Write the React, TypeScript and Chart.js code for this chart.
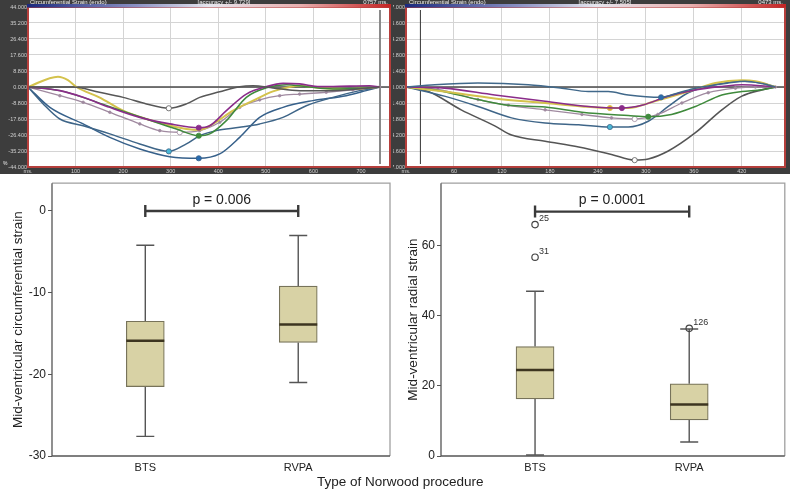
import React, { useEffect, useRef } from 'react';
import { Chart, registerables } from 'chart.js';

Chart.register(...registerables);

const FONT = '"Liberation Sans", Arial, Helvetica, sans-serif';

// ---------------- Top-left panel: circumferential strain curves (ms, %) ----------------
const leftTitle = 'Circumferential Strain (endo)';
const leftAccuracy = '[accuracy +/- 9.729]';
const leftDuration = '0757 ms.';
const leftXTicks = [0, 100, 200, 300, 400, 500, 600, 700];
const leftYTicks = [44, 35.2, 26.4, 17.6, 8.8, 0, -8.8, -17.6, -26.4, -35.2, -44];
const leftXMax = 761;
const leftCursorMs = 740;

const leftYellowMs = [0, 63, 84, 102, 150, 200, 249, 300, 333, 361, 389, 431, 473, 515, 550, 571, 613, 676, 739];
const leftYellowStrain = [0, 5.7, 3.8, 0, -5.7, -13, -17.6, -21.3, -23.1, -23.6, -20.3, -13, -7.5, -2.4, 0, 0.7, -0.5, -1.1, 0];
const leftGrayMs = [0, 95, 150, 200, 249, 296, 333, 361, 403, 445, 473, 515, 571, 641, 711, 739];
const leftGrayStrain = [0, 0, -2.9, -5.7, -9.3, -11.7, -9.3, -5.7, -2.6, 0.2, 0.7, -0.5, -2, -2, -0.7, 0];
const leftPurpleMs = [0, 67, 116, 172, 235, 298, 359, 382, 417, 459, 501, 536, 571, 613, 676, 718, 739];
const leftPurpleStrain = [0, -2, -5.7, -11.2, -16.7, -20.3, -22.4, -21.3, -13, -3.9, 0.2, 2, 1.7, 0.2, 0.5, 0.7, 0];
const leftGreenMs = [0, 67, 172, 249, 312, 359, 382, 417, 459, 501, 543, 585, 641, 711, 739];
const leftGreenStrain = [0, -2, -10.8, -17.6, -23.1, -26.8, -25.8, -18.5, -5.7, -0.5, 1.3, 0.2, -1.1, -0.5, 0];
const leftMauveMs = [0, 67, 116, 172, 235, 277, 319, 361, 403, 445, 487, 529, 571, 627, 683, 739];
const leftMauveStrain = [0, -4.8, -8.4, -13.9, -20.3, -24, -24.9, -24, -19.4, -11.2, -7.1, -4.8, -3.9, -2.9, -1.6, 0];
const leftBlueAMs = [0, 32, 67, 116, 172, 235, 296, 333, 361, 396, 445, 487, 536, 585, 641, 697, 739];
const leftBlueAStrain = [0, -9.3, -17.6, -21.3, -25.8, -31.3, -35.4, -31.3, -26.8, -24, -22.2, -20.3, -16.7, -10.3, -5.7, -2, 0];
const leftBlueBMs = [0, 46, 116, 172, 235, 298, 359, 403, 445, 487, 536, 599, 669, 711, 739];
const leftBlueBStrain = [0, -11.2, -20.3, -27.7, -34.1, -38.3, -39.2, -36.8, -27.7, -16.7, -11.2, -7.5, -4.8, -2, 0];

// ---------------- Top-right panel ----------------
const rightTitle = 'Circumferential Strain (endo)';
const rightAccuracy = '[accuracy +/- 7.505]';
const rightDuration = '0473 ms.';
const rightXTicks = [0, 60, 120, 180, 240, 300, 360, 420];
const rightYTicks = [7, 5.6, 4.2, 2.8, 1.4, 0, -1.4, -2.8, -4.2, -5.6, -7];
const rightXMax = 474;
const rightCursorMs = 18;

const rightTopBlueMs = [0, 36, 90, 153, 195, 228, 253, 278, 319, 341, 362, 403, 424, 445, 462];
const rightTopBlueStrain = [0, 0.2, 0.35, 0.2, -0.1, -0.4, -0.4, -0.7, -0.9, -0.5, -0.1, 0.35, 0.5, 0.3, 0];
const rightYellowMs = [0, 48, 111, 174, 220, 255, 278, 311, 353, 387, 420, 437, 462];
const rightYellowStrain = [0, -0.4, -1, -1.4, -1.7, -1.84, -1.84, -1.25, -0.4, 0.35, 0.58, 0.5, 0];
const rightPurpleMs = [0, 48, 111, 174, 228, 270, 295, 328, 362, 395, 420, 462];
const rightPurpleStrain = [0, -0.1, -0.7, -1.25, -1.7, -1.84, -1.6, -0.8, -0.25, 0.05, 0.2, 0];
const rightGreenMs = [0, 40, 90, 128, 174, 220, 278, 303, 332, 362, 395, 420, 445, 462];
const rightGreenStrain = [0, -0.3, -1.1, -1.6, -1.75, -2.2, -2.5, -2.6, -2.4, -1.7, -0.7, -0.4, -0.25, 0];
const rightMauveMs = [0, 40, 90, 128, 174, 220, 257, 286, 315, 345, 378, 412, 437, 462];
const rightMauveStrain = [0, -0.2, -1.1, -1.6, -2, -2.4, -2.7, -2.8, -2.4, -1.4, -0.5, -0.1, 0, 0];
const rightBlueMs = [0, 48, 90, 132, 174, 216, 255, 278, 303, 328, 353, 387, 420, 445, 462];
const rightBlueStrain = [0, -0.8, -1.7, -2.7, -3.15, -3.3, -3.5, -3.5, -3, -1.7, -0.5, 0.2, 0.5, 0.35, 0];
const rightGrayMs = [0, 28, 69, 111, 132, 174, 216, 257, 286, 303, 328, 362, 395, 420, 445, 462];
const rightGrayStrain = [0, -0.4, -2, -3.4, -4.2, -4.75, -5.25, -5.9, -6.4, -6.3, -5.6, -4, -2, -0.8, -0.25, 0];

// ---------------- Box plots ----------------
const boxCategories = ['BTS', 'RVPA'];
const circTitle = 'Mid-ventricular circumferential strain';
const circMin = [-27.6, -21.0];
const circQ1 = [-21.5, -16.1];
const circMedian = [-15.9, -13.9];
const circQ3 = [-13.5, -9.2];
const circMax = [-4.2, -3.0];
const circYTicks = [-30, -20, -10, 0];
const circPText = 'p = 0.006';
const circBracketValue = 0;

const radialTitle = 'Mid-ventricular radial strain';
const radialMin = [0.3, 4.0];
const radialQ1 = [16.3, 10.3];
const radialMedian = [24.5, 14.7];
const radialQ3 = [31.2, 20.6];
const radialMax = [47.0, 36.2];
const radialOutlierGroup = [1, 1, 2];
const radialOutlierValue = [66.0, 56.7, 36.4];
const radialOutlierLabel = ['25', '31', '126'];
const radialYTicks = [0, 20, 40, 60];
const radialPText = 'p = 0.0001';
const radialBracketValue = 69.7;

const xAxisTitle = 'Type of Norwood procedure';

type Series = { ms: number[]; v: number[]; color: string; width: number; marker: number; markerFill: string; dots?: boolean };

function strainConfig(p: {
  series: Series[]; xMax: number; xTicks: number[]; yTicks: number[]; yMax: number; cursorMs: number; cursorColor: string; cursorWidth: number;
  title: string; accuracy: string; duration: string; yWidth: number; titleX: number; accX: number; unit?: string;
}) {
  const datasets: any[] = p.series.map((s) => ({
    type: 'line',
    data: s.ms.map((m, i) => ({ x: m, y: s.v[i] })),
    borderColor: s.color,
    borderWidth: s.width,
    cubicInterpolationMode: 'monotone',
    pointRadius: s.ms.map((_, i) => (i === s.marker ? 2.6 : s.dots ? 1.3 : 0)),
    pointBackgroundColor: s.ms.map((_, i) => (i === s.marker ? s.markerFill : s.color)),
    pointBorderColor: s.color,
    pointBorderWidth: 0.8,
  }));
  datasets.push({
    type: 'line',
    data: [{ x: 0, y: 0 }, { x: p.xMax, y: 0 }],
    borderColor: '#4a4a4a',
    borderWidth: 1.6,
    pointRadius: 0,
  });
  const plugin = {
    id: 'strainPanel',
    beforeDraw(chart: any) {
      const { ctx, width, height, chartArea: a } = chart;
      ctx.save();
      ctx.fillStyle = '#3d3d3d';
      ctx.fillRect(0, 0, width, height);
      ctx.fillStyle = '#ffffff';
      ctx.fillRect(a.left, a.top, a.right - a.left, a.bottom - a.top);
      ctx.restore();
    },
    beforeDatasetsDraw(chart: any) {
      const { ctx, chartArea: a, scales } = chart;
      const x = scales.x.getPixelForValue(p.cursorMs);
      ctx.save();
      ctx.strokeStyle = p.cursorColor;
      ctx.lineWidth = p.cursorWidth;
      ctx.beginPath();
      ctx.moveTo(x, a.top + 3);
      ctx.lineTo(x, a.bottom - 3);
      ctx.stroke();
      ctx.restore();
    },
    afterDraw(chart: any) {
      const { ctx, chartArea: a } = chart;
      ctx.save();
      ctx.strokeStyle = '#b53f3c';
      ctx.lineWidth = 2;
      ctx.strokeRect(a.left, a.top, a.right - a.left, a.bottom - a.top);
      const g = ctx.createLinearGradient(a.left, 0, a.right, 0);
      g.addColorStop(0, '#1c2a7e');
      g.addColorStop(0.3, '#8c92c4');
      g.addColorStop(0.5, '#e6e6ee');
      g.addColorStop(0.75, '#e8b0b0');
      g.addColorStop(1, '#c42424');
      ctx.fillStyle = g;
      ctx.fillRect(a.left - 1, a.top - 3, a.right - a.left + 2, 3.5);
      ctx.fillStyle = '#ececec';
      ctx.font = `6px ${FONT}`;
      ctx.textBaseline = 'middle';
      ctx.textAlign = 'left';
      ctx.fillText(p.title, p.titleX, 2.5);
      ctx.textAlign = 'center';
      ctx.fillText(p.accuracy, p.accX, 2.5);
      ctx.textAlign = 'right';
      ctx.fillText(p.duration, a.right - 2, 2.5);
      if (p.unit) {
        ctx.textAlign = 'left';
        ctx.font = `5px ${FONT}`;
        ctx.fillText(p.unit, 3, a.bottom - 3);
      }
      ctx.restore();
    },
  };
  return {
    type: 'line',
    data: { datasets },
    plugins: [plugin],
    options: {
      animation: false,
      responsive: false,
      events: [],
      layout: { padding: { top: 7, right: 5, left: 0, bottom: 0 } },
      plugins: { legend: { display: false }, tooltip: { enabled: false } },
      scales: {
        x: {
          type: 'linear',
          min: 0,
          max: p.xMax,
          afterBuildTicks: (s: any) => { s.ticks = p.xTicks.map((v) => ({ value: v })); },
          afterFit: (s: any) => { s.height = 7; },
          ticks: {
            color: '#d0d0d0', font: { size: 5.5, family: FONT }, padding: 1, maxRotation: 0, autoSkip: false,
            callback: (v: any) => (v === 0 ? 'ms.' : String(v)),
          },
          grid: { color: '#d4d4d4', lineWidth: 1, drawTicks: false },
          border: { display: false },
        },
        y: {
          type: 'linear',
          min: -p.yMax,
          max: p.yMax,
          afterBuildTicks: (s: any) => { s.ticks = p.yTicks.map((v) => ({ value: v })); },
          afterFit: (s: any) => { s.width = p.yWidth; },
          ticks: {
            color: '#d0d0d0', font: { size: 5.5, family: FONT }, padding: 1, autoSkip: false,
            callback: (v: any) => Number(v).toFixed(3),
          },
          grid: { color: '#d4d4d4', lineWidth: 1, drawTicks: false },
          border: { display: false },
        },
      },
    },
  };
}

function boxConfig(p: {
  min: number[]; q1: number[]; med: number[]; q3: number[]; max: number[]; yMin: number; yMax: number; yTicks: number[];
  title: string; xMin: number; xMax: number; yWidth: number; outX: number[]; outY: number[]; outLabel: string[];
  bracket: number; pText: string;
}) {
  const datasets: any[] = [
    {
      type: 'bar',
      data: boxCategories.map((_, i) => ({ x: i + 1, y: [p.q1[i], p.q3[i]] })),
      backgroundColor: '#d8d2a5',
      borderColor: '#77735a',
      borderWidth: 1.2,
      borderSkipped: false,
      barThickness: 38,
    },
  ];
  if (p.outX.length) {
    datasets.unshift({
      type: 'scatter',
      data: p.outX.map((x, i) => ({ x, y: p.outY[i] })),
      pointRadius: 3.2,
      pointBackgroundColor: 'rgba(255,255,255,0)',
      pointBorderColor: '#444',
      pointBorderWidth: 1.2,
      showLine: false,
    });
  }
  const plugin = {
    id: 'boxPanel',
    beforeDatasetsDraw(chart: any) {
      const { ctx, scales } = chart;
      ctx.save();
      ctx.strokeStyle = '#555';
      ctx.lineWidth = 1.4;
      boxCategories.forEach((_, i) => {
        const x = scales.x.getPixelForValue(i + 1);
        const yMax = scales.y.getPixelForValue(p.max[i]);
        const yMin = scales.y.getPixelForValue(p.min[i]);
        const yQ1 = scales.y.getPixelForValue(p.q1[i]);
        const yQ3 = scales.y.getPixelForValue(p.q3[i]);
        ctx.beginPath();
        ctx.moveTo(x, yQ3); ctx.lineTo(x, yMax);
        ctx.moveTo(x, yQ1); ctx.lineTo(x, yMin);
        ctx.moveTo(x - 9, yMax); ctx.lineTo(x + 9, yMax);
        ctx.moveTo(x - 9, yMin); ctx.lineTo(x + 9, yMin);
        ctx.stroke();
      });
      ctx.restore();
    },
    afterDatasetsDraw(chart: any) {
      const { ctx, scales } = chart;
      ctx.save();
      ctx.strokeStyle = '#3d3520';
      ctx.lineWidth = 2.5;
      boxCategories.forEach((_, i) => {
        const x = scales.x.getPixelForValue(i + 1);
        const y = scales.y.getPixelForValue(p.med[i]);
        ctx.beginPath();
        ctx.moveTo(x - 19, y); ctx.lineTo(x + 19, y);
        ctx.stroke();
      });
      ctx.fillStyle = '#333';
      ctx.font = `9px ${FONT}`;
      ctx.textAlign = 'left';
      ctx.textBaseline = 'middle';
      p.outX.forEach((xv, i) => {
        const x = scales.x.getPixelForValue(xv);
        const y = scales.y.getPixelForValue(p.outY[i]);
        ctx.fillText(p.outLabel[i], x + 4, y - 6);
      });
      const x1 = scales.x.getPixelForValue(1);
      const x2 = scales.x.getPixelForValue(2);
      const yb = scales.y.getPixelForValue(p.bracket);
      ctx.strokeStyle = '#3a3a3a';
      ctx.lineWidth = 2.4;
      ctx.beginPath();
      ctx.moveTo(x1, yb); ctx.lineTo(x2, yb);
      ctx.moveTo(x1, yb - 6); ctx.lineTo(x1, yb + 6);
      ctx.moveTo(x2, yb - 6); ctx.lineTo(x2, yb + 6);
      ctx.stroke();
      ctx.fillStyle = '#222';
      ctx.font = `14px ${FONT}`;
      ctx.textAlign = 'center';
      ctx.textBaseline = 'bottom';
      ctx.fillText(p.pText, (x1 + x2) / 2, yb - 4);
      ctx.restore();
    },
    afterDraw(chart: any) {
      const { ctx, chartArea: a } = chart;
      ctx.save();
      ctx.lineWidth = 1.3;
      ctx.strokeStyle = '#a0a0a0';
      ctx.beginPath();
      ctx.moveTo(a.left, a.top); ctx.lineTo(a.right, a.top); ctx.lineTo(a.right, a.bottom);
      ctx.stroke();
      ctx.strokeStyle = '#555';
      ctx.beginPath();
      ctx.moveTo(a.left, a.top); ctx.lineTo(a.left, a.bottom); ctx.lineTo(a.right, a.bottom);
      ctx.stroke();
      ctx.restore();
    },
  };
  return {
    type: 'bar',
    data: { datasets },
    plugins: [plugin],
    options: {
      animation: false,
      responsive: false,
      events: [],
      layout: { padding: { top: 5, right: 5, left: 0, bottom: 0 } },
      plugins: { legend: { display: false }, tooltip: { enabled: false } },
      scales: {
        x: {
          type: 'linear',
          min: p.xMin,
          max: p.xMax,
          offset: false,
          afterBuildTicks: (s: any) => { s.ticks = boxCategories.map((_, i) => ({ value: i + 1 })); },
          afterFit: (s: any) => { s.height = 34; },
          ticks: {
            color: '#222', font: { size: 11, family: FONT }, padding: 5, maxRotation: 0, autoSkip: false,
            callback: (v: any) => boxCategories[Math.round(v) - 1] ?? '',
          },
          grid: { display: false, drawTicks: false },
          border: { display: false },
        },
        y: {
          type: 'linear',
          min: p.yMin,
          max: p.yMax,
          afterBuildTicks: (s: any) => { s.ticks = p.yTicks.map((v) => ({ value: v })); },
          afterFit: (s: any) => { s.width = p.yWidth; },
          ticks: { color: '#222', font: { size: 12, family: FONT }, padding: 2, autoSkip: false },
          grid: { display: true, drawOnChartArea: false, drawTicks: true, tickLength: 4, color: '#555' },
          border: { display: false },
          title: {
            display: true, text: p.title, color: '#222', font: { size: 13.5, family: FONT },
            padding: { top: 10, bottom: 0 },
          },
        },
      },
    },
  };
}

const topLeftConfig = () =>
  strainConfig({
    series: [
      { ms: leftGrayMs, v: leftGrayStrain, color: '#575757', width: 1.5, marker: 5, markerFill: '#ffffff' },
      { ms: leftPurpleMs, v: leftPurpleStrain, color: '#8a2c8a', width: 1.6, marker: 6, markerFill: '#8a2c8a' },
      { ms: leftGreenMs, v: leftGreenStrain, color: '#3f8a3c', width: 1.5, marker: 5, markerFill: '#3f8a3c' },
      { ms: leftYellowMs, v: leftYellowStrain, color: '#d4c24c', width: 2, marker: -1, markerFill: '#d4c24c' },
      { ms: leftMauveMs, v: leftMauveStrain, color: '#a08aa0', width: 1.3, marker: 6, markerFill: '#ffffff', dots: true },
      { ms: leftBlueAMs, v: leftBlueAStrain, color: '#3e6588', width: 1.5, marker: 6, markerFill: '#48b8d6' },
      { ms: leftBlueBMs, v: leftBlueBStrain, color: '#36608a', width: 1.5, marker: 6, markerFill: '#2a6cb0' },
    ],
    xMax: leftXMax, xTicks: leftXTicks, yTicks: leftYTicks, yMax: 44, cursorMs: leftCursorMs,
    cursorColor: '#8a8a8a', cursorWidth: 2, title: leftTitle, accuracy: leftAccuracy, duration: leftDuration,
    yWidth: 28, titleX: 30, accX: 224, unit: '%',
  });

const topRightConfig = () =>
  strainConfig({
    series: [
      { ms: rightTopBlueMs, v: rightTopBlueStrain, color: '#40688a', width: 1.5, marker: 8, markerFill: '#2a6cb0' },
      { ms: rightPurpleMs, v: rightPurpleStrain, color: '#8a2c8a', width: 1.6, marker: 5, markerFill: '#8a2c8a' },
      { ms: rightYellowMs, v: rightYellowStrain, color: '#d4c24c', width: 2, marker: 5, markerFill: '#e0a030' },
      { ms: rightGreenMs, v: rightGreenStrain, color: '#3f8a3c', width: 1.5, marker: 7, markerFill: '#3f8a3c' },
      { ms: rightMauveMs, v: rightMauveStrain, color: '#a08aa0', width: 1.3, marker: 7, markerFill: '#ffffff', dots: true },
      { ms: rightBlueMs, v: rightBlueStrain, color: '#3e6588', width: 1.5, marker: 6, markerFill: '#48b8d6' },
      { ms: rightGrayMs, v: rightGrayStrain, color: '#555555', width: 1.6, marker: 8, markerFill: '#ffffff' },
    ],
    xMax: rightXMax, xTicks: rightXTicks, yTicks: rightYTicks, yMax: 7, cursorMs: rightCursorMs,
    cursorColor: '#333333', cursorWidth: 1, title: rightTitle, accuracy: rightAccuracy, duration: rightDuration,
    yWidth: 13, titleX: 16, accX: 212,
  });

const circConfig = () =>
  boxConfig({
    min: circMin, q1: circQ1, med: circMedian, q3: circQ3, max: circMax, yMin: -30, yMax: 3.4, yTicks: circYTicks,
    title: circTitle, xMin: 0.39, xMax: 2.6, yWidth: 52, outX: [], outY: [], outLabel: [], bracket: circBracketValue, pText: circPText,
  });

const radialConfig = () =>
  boxConfig({
    min: radialMin, q1: radialQ1, med: radialMedian, q3: radialQ3, max: radialMax, yMin: 0, yMax: 77.8, yTicks: radialYTicks,
    title: radialTitle, xMin: 0.39, xMax: 2.62, yWidth: 46, outX: radialOutlierGroup, outY: radialOutlierValue,
    outLabel: radialOutlierLabel, bracket: radialBracketValue, pText: radialPText,
  });

function ChartCanvas({ left, top, width, height, config }: { left: number; top: number; width: number; height: number; config: () => any }) {
  const ref = useRef<HTMLCanvasElement>(null);
  useEffect(() => {
    const chart = new Chart(ref.current as HTMLCanvasElement, config());
    return () => chart.destroy();
  }, []);
  return (
    <canvas
      ref={ref}
      width={width}
      height={height}
      style={{ position: 'absolute', left, top, width, height, display: 'block' }}
    />
  );
}

export default function App() {
  return (
    <div style={{ position: 'absolute', left: 0, top: 0, width: 790, height: 490, background: '#fff', overflow: 'hidden', fontFamily: FONT }}>
      <ChartCanvas left={0} top={0} width={395} height={174} config={topLeftConfig} />
      <ChartCanvas left={393} top={0} width={397} height={174} config={topRightConfig} />
      <ChartCanvas left={0} top={174} width={395} height={316} config={circConfig} />
      <ChartCanvas left={395} top={174} width={395} height={316} config={radialConfig} />
      <div style={{ position: 'absolute', left: 317, top: 474, fontSize: 13.5, lineHeight: '16px', color: '#222', whiteSpace: 'nowrap' }}>
        {xAxisTitle}
      </div>
    </div>
  );
}
